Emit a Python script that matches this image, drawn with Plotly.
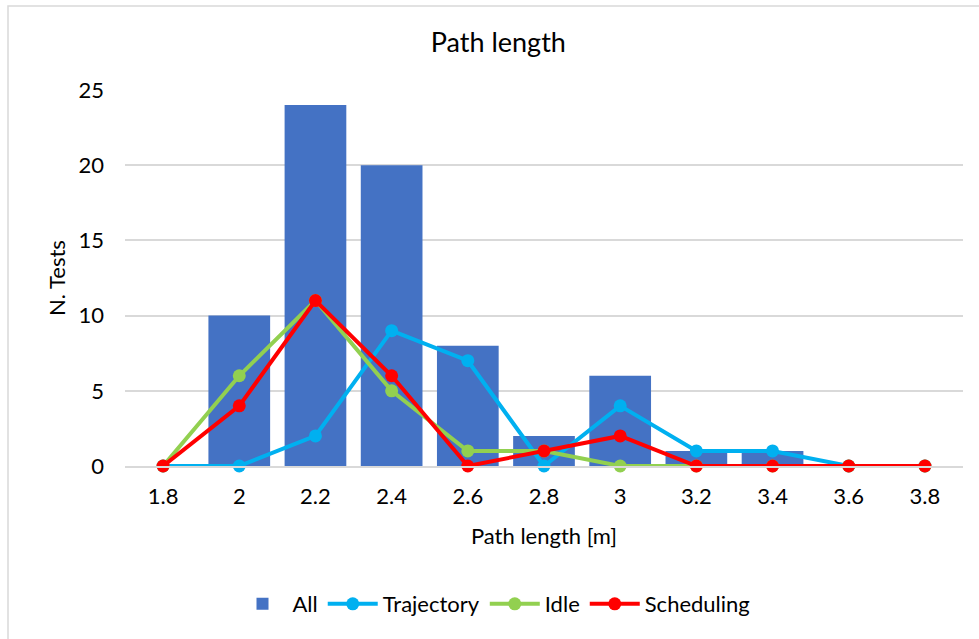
import plotly.graph_objects as go

categories = ["1.8", "2", "2.2", "2.4", "2.6", "2.8", "3", "3.2", "3.4", "3.6", "3.8"]
all_counts = [0, 10, 24, 20, 8, 2, 6, 1, 1, 0, 0]
trajectory = [0, 0, 2, 9, 7, 0, 4, 1, 1, 0, 0]
idle = [0, 6, 11, 5, 1, 1, 0, 0, 0, 0, 0]
scheduling = [0, 4, 11, 6, 0, 1, 2, 0, 0, 0, 0]

FONT = "Lato, Open Sans, sans-serif"

fig = go.Figure()
fig.add_trace(go.Bar(x=categories, y=all_counts, name="All",
                     marker=dict(color="#4472C4", line=dict(width=0))))
for name, vals, col in [("Trajectory", trajectory, "#00B0F0"),
                        ("Idle", idle, "#92D050"),
                        ("Scheduling", scheduling, "#FF0000")]:
    fig.add_trace(go.Scatter(x=categories, y=vals, name=name, mode="lines+markers",
                             line=dict(color=col, width=4),
                             marker=dict(color=col, size=13),
                             cliponaxis=False))

L, R, T, B = 125, 16, 90, 173
W, H = 979, 639
pw, ph = W - L - R, H - T - B

def px_to_paper_x(px):
    return (px - L) / pw

def px_to_paper_y(py):
    return (H - B - py) / ph

fig.add_shape(type="rect", xref="paper", yref="paper",
              x0=px_to_paper_x(8), x1=px_to_paper_x(990),
              y0=px_to_paper_y(650), y1=px_to_paper_y(6),
              line=dict(color="#d9d9d9", width=1.5), layer="below")

fig.update_layout(
    width=W, height=H,
    margin=dict(l=L, r=R, t=T, b=B),
    paper_bgcolor="white", plot_bgcolor="white",
    font=dict(family=FONT, size=22, color="#000000"),
    title=dict(text="Path length", x=0.509, xref="container", xanchor="center",
               y=1 - 43 / H, yref="container", yanchor="middle",
               font=dict(size=27, color="#000000")),
    bargap=0.19,
    showlegend=True,
    legend=dict(orientation="h", x=px_to_paper_x(494), xanchor="center",
                y=px_to_paper_y(604), yanchor="middle",
                font=dict(size=22), itemwidth=50, traceorder="normal"),
)
fig.update_xaxes(type="category", range=[-0.5, 10.5], showgrid=False,
                 showline=True, linecolor="#d9d9d9", linewidth=1.5,
                 ticks="", ticklabelstandoff=10,
                 title=dict(text="Path length [m]", standoff=20, font=dict(size=22)))
fig.update_yaxes(range=[0, 25], dtick=5, showgrid=True, gridcolor="#d9d9d9",
                 gridwidth=1.5, zeroline=False, showline=False, ticks="",
                 ticklabelstandoff=20,
                 title=dict(text="N. Tests", standoff=6, font=dict(size=22)))

fig.write_html("out.html")
